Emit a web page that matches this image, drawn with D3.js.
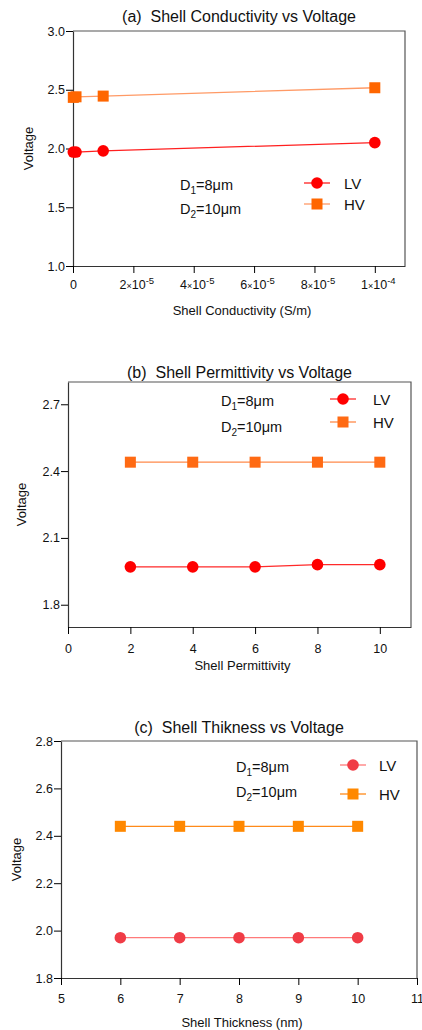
<!DOCTYPE html>
<html>
<head>
<meta charset="utf-8">
<script src="https://cdn.jsdelivr.net/npm/d3@7"></script>
<style>
  body { margin: 0; background: #fff; }
  svg { font-family: "Liberation Sans", Arial, sans-serif; }
  .title { white-space: pre; }
</style>
</head>
<body>
<div id="chart"></div>
<script>
// panel (a)
const condX = [1e-7, 1e-6, 1e-5, 1e-4];
const condLV = [1.97, 1.97, 1.98, 2.05];
const condHV = [2.435, 2.44, 2.446, 2.517];
const condTicksX = [0, 2e-5, 4e-5, 6e-5, 8e-5, 1e-4];
const condTicksY = [1.0, 1.5, 2.0, 2.5, 3.0];

// panel (b)
const permX = [2, 4, 6, 8, 10];
const permLV = [1.97, 1.97, 1.97, 1.98, 1.98];
const permHV = [2.44, 2.44, 2.44, 2.44, 2.44];
const permTicksX = [0, 2, 4, 6, 8, 10];
const permTicksY = [1.8, 2.1, 2.4, 2.7];

// panel (c)
const thickX = [6, 7, 8, 9, 10];
const thickLV = [1.97, 1.97, 1.97, 1.97, 1.97];
const thickHV = [2.44, 2.44, 2.44, 2.44, 2.44];
const thickTicksX = [5, 6, 7, 8, 9, 10, 11];
const thickTicksY = [1.8, 2.0, 2.2, 2.4, 2.6, 2.8];

const svg = d3.select("#chart").append("svg")
    .attr("width", 422)
    .attr("height", 1030);

const panels = [
  {
    title: "(a)  Shell Conductivity vs Voltage", titleY: 22,
    xLabel: "Shell Conductivity (S/m)", xLabelY: 315,
    box: [73, 31, 405, 266],
    xDomain: [0, 1.1e-4], yDomain: [1.0, 3.0],
    xTicks: condTicksX, yTicks: condTicksY, sci: true,
    x: condX, lv: condLV, hv: condHV,
    lvColor: "#ff0000", lvLine: "#ff2020", hvColor: "#ff6600", hvLine: "#ff9a66",
    yLabelX: 29, tickLabelY: 289,
    legend: [304, 183, 204, 344], note: [180, 190, 214]
  },
  {
    title: "(b)  Shell Permittivity vs Voltage", titleY: 378,
    xLabel: "Shell Permittivity", xLabelY: 670,
    box: [68, 382, 411, 627],
    xDomain: [0, 11], yDomain: [1.7, 2.8],
    xTicks: permTicksX, yTicks: permTicksY, sci: false,
    x: permX, lv: permLV, hv: permHV,
    lvColor: "#ff0000", lvLine: "#ff2a2a", hvColor: "#ff6a13", hvLine: "#ff8a4a",
    yLabelX: 22, tickLabelY: 653,
    legend: [330, 399, 422, 373], note: [221, 406, 432]
  },
  {
    title: "(c)  Shell Thikness vs Voltage", titleY: 733,
    xLabel: "Shell Thickness (nm)", xLabelY: 1027,
    box: [61, 741, 417, 978],
    xDomain: [5, 11], yDomain: [1.8, 2.8],
    xTicks: thickTicksX, yTicks: thickTicksY, sci: false,
    x: thickX, lv: thickLV, hv: thickHV,
    lvColor: "#f03c46", lvLine: "#ff7a7a", hvColor: "#ff8800", hvLine: "#ff8a1a",
    yLabelX: 17, tickLabelY: 1003,
    legend: [340, 765, 794, 379], note: [236, 772, 797]
  }
];

function drawPanel(p) {
  const [x0, y0, x1, y1] = p.box;
  const x = d3.scaleLinear().domain(p.xDomain).range([x0, x1]);
  const y = d3.scaleLinear().domain(p.yDomain).range([y1, y0]);
  const g = svg.append("g");

  // frame (top + right)
  g.append("path")
    .attr("d", `M${x0},${y0}H${x1}V${y1}`)
    .attr("fill", "none").attr("stroke", "#555").attr("stroke-width", 1.2);

  // y axis
  const yAxis = g.append("g")
    .attr("transform", `translate(${x0},0)`)
    .call(d3.axisLeft(y).tickValues(p.yTicks).tickFormat(d3.format(".1f")).tickSize(7).tickSizeOuter(0));
  // x axis
  const xAxis = g.append("g")
    .attr("transform", `translate(0,${y1})`)
    .call(d3.axisBottom(x).tickValues(p.xTicks).tickFormat(d3.format("d")).tickSize(7).tickSizeOuter(0));

  [yAxis, xAxis].forEach(a => {
    a.select(".domain").attr("stroke", "#333").attr("stroke-width", 1.2);
    a.selectAll(".tick line").attr("stroke", "#000");
    a.selectAll(".tick text").attr("font-size", 12.5).attr("fill", "#111")
      .attr("font-family", "Liberation Sans, Arial, sans-serif");
  });
  yAxis.selectAll(".tick text").attr("x", -8);
  xAxis.selectAll(".tick text").attr("y", null).attr("dy", null)
    .attr("transform", `translate(0,${p.tickLabelY - y1})`);

  if (p.sci) {
    xAxis.selectAll(".tick text").each(function (d) {
      const t = d3.select(this).text("");
      if (d === 0) { t.text("0"); return; }
      const e = Math.floor(Math.log10(d) + 1e-9);
      const m = Math.round(d / Math.pow(10, e));
      t.attr("font-size", 12.5).attr("dx", 3);
      t.append("tspan").text(`${m}`);
      t.append("tspan").attr("font-size", 9).text("\u00d7");
      t.append("tspan").text("10");
      t.append("tspan").attr("font-size", 9.5).attr("dy", -5).text(`-${-e}`);
    });
  }

  // titles
  g.append("text").attr("class", "title")
    .attr("x", (x0 + x1) / 2).attr("y", p.titleY)
    .attr("text-anchor", "middle").attr("font-size", 16).attr("fill", "#111")
    .text(p.title);
  g.append("text").attr("x", (x0 + x1) / 2 + 3).attr("y", p.xLabelY)
    .attr("text-anchor", "middle").attr("font-size", 13).attr("fill", "#111")
    .text(p.xLabel);
  g.append("text")
    .attr("transform", `translate(${p.yLabelX + 4},${(y0 + y1) / 2}) rotate(-90)`)
    .attr("text-anchor", "middle").attr("font-size", 13).attr("fill", "#111")
    .text("Voltage");

  // series
  const line = d3.line().x(d => x(d[0])).y(d => y(d[1]));
  const lvPts = p.x.map((v, i) => [v, p.lv[i]]);
  const hvPts = p.x.map((v, i) => [v, p.hv[i]]);

  g.append("path").datum(hvPts).attr("d", line)
    .attr("fill", "none").attr("stroke", p.hvLine).attr("stroke-width", 1.3);
  g.selectAll(".hv").data(hvPts).join("rect")
    .attr("x", d => x(d[0]) - 5.5).attr("y", d => y(d[1]) - 5.5)
    .attr("width", 11).attr("height", 11).attr("fill", p.hvColor);

  g.append("path").datum(lvPts).attr("d", line)
    .attr("fill", "none").attr("stroke", p.lvLine).attr("stroke-width", 1.3);
  g.selectAll(".lv").data(lvPts).join("circle")
    .attr("cx", d => x(d[0])).attr("cy", d => y(d[1]))
    .attr("r", 5.8).attr("fill", p.lvColor);

  // legend
  const [lx, ly1, ly2, tx] = p.legend;
  const leg = [
    { y: ly1, label: "LV", line: p.lvLine, color: p.lvColor, shape: "circle" },
    { y: ly2, label: "HV", line: p.hvLine, color: p.hvColor, shape: "square" }
  ];
  leg.forEach(l => {
    g.append("line").attr("x1", lx).attr("x2", lx + 26).attr("y1", l.y).attr("y2", l.y)
      .attr("stroke", l.line).attr("stroke-width", 1.3);
    if (l.shape === "circle") {
      g.append("circle").attr("cx", lx + 13).attr("cy", l.y).attr("r", 5.8).attr("fill", l.color);
    } else {
      g.append("rect").attr("x", lx + 7.5).attr("y", l.y - 5.5).attr("width", 11).attr("height", 11)
        .attr("fill", l.color);
    }
    g.append("text").attr("x", tx).attr("y", l.y + 5.5).attr("font-size", 15).attr("fill", "#111")
      .text(l.label);
  });

  // diameter note
  const [nx, n1, n2] = p.note;
  [[n1, "1", "=8\u03bcm"], [n2, "2", "=10\u03bcm"]].forEach(([ny, sub, rest]) => {
    const t = g.append("text").attr("x", nx).attr("y", ny).attr("font-size", 14.5).attr("fill", "#111");
    t.append("tspan").text("D");
    t.append("tspan").attr("font-size", 10).attr("dy", 4).text(sub);
    t.append("tspan").attr("dy", -4).text(rest);
  });
}

panels.forEach(drawPanel);
</script>
</body>
</html>
